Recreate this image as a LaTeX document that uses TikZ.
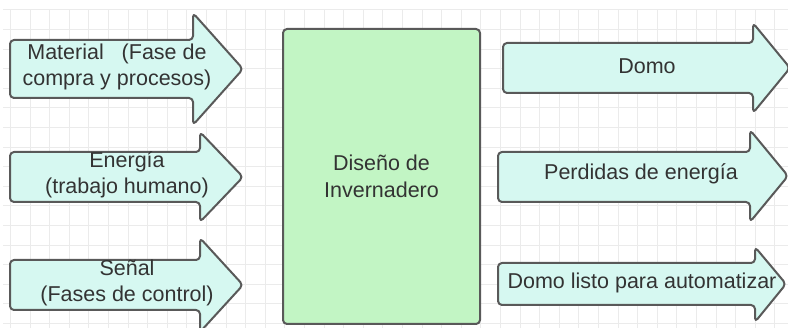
\documentclass[tikz,border=0pt]{standalone}
\usepackage{fontspec}
\setmainfont{Liberation Sans}
\definecolor{gridc}{HTML}{EBEBEB}
\definecolor{arrowfill}{HTML}{D6F8F1}
\definecolor{boxfill}{HTML}{C2F5C4}
\definecolor{edgec}{HTML}{595959}
\definecolor{txtc}{HTML}{333333}
\begin{document}
\begin{tikzpicture}[x=1pt,y=-1pt,
  arrowshape/.style={draw=edgec, fill=arrowfill, line width=2pt, rounded corners=4pt, line join=round},
  lbl/.style={text=txtc, align=center, inner sep=0pt, font=\fontsize{21.5}{26.5}\selectfont},
  mainbox/.style={draw=edgec, fill=boxfill, line width=2pt, rounded corners=4pt, minimum width=197pt, minimum height=295pt, text=txtc, align=center, font=\fontsize{21.5}{26.5}\selectfont}]
\useasboundingbox (0,0) rectangle (788,328);
\clip (0,0) rectangle (788,328);
\fill[white] (0,0) rectangle (788,328);
% grid
\foreach \k in {0,...,39} {
  \draw[gridc, line width=1pt] (10.5+19.6*\k,10) -- (10.5+19.6*\k,328);
}
\foreach \k in {0,...,16} {
  \draw[gridc, line width=1pt] (3,10+19.6*\k) -- (788,10+19.6*\k);
}
% left arrows
\draw[arrowshape] (10,40) -- (193,40) -- (193,13) -- (243,69) -- (193,125) -- (193,98) -- (10,98) -- cycle;
\draw[arrowshape] (10,152) -- (200,152) -- (200,132) -- (243,177) -- (200,222) -- (200,202) -- (10,202) -- cycle;
\draw[arrowshape] (10,260) -- (200,260) -- (200,238) -- (243,285) -- (200,332) -- (200,310) -- (10,310) -- cycle;
% right arrows
\draw[arrowshape] (503,43) -- (753,43) -- (753,23) -- (790,68) -- (753,113) -- (753,93) -- (503,93) -- cycle;
\draw[arrowshape] (498,152) -- (750,152) -- (750,130) -- (788,176) -- (750,222) -- (750,202) -- (498,202) -- cycle;
\draw[arrowshape] (498,263) -- (755,263) -- (755,247) -- (786,284) -- (755,322) -- (755,305) -- (498,305) -- cycle;
% central box
\node[mainbox] (box) at (381.5,176.5) {Diseño de\\Invernadero};
% labels
\node[lbl] (material) at (117,67) {Material\ \ \ (Fase de\\compra y procesos)};
\node[lbl] (energia) at (127,175) {Energía\\(trabajo humano)};
\node[lbl] (senal) at (127,283) {Señal\\(Fases de control)};
\node[lbl] (domo) at (647,66) {Domo};
\node[lbl] (perdidas) at (641,174) {Perdidas de energía};
\node[lbl] (listo) at (642,283) {Domo listo para automatizar};
\end{tikzpicture}
\end{document}
